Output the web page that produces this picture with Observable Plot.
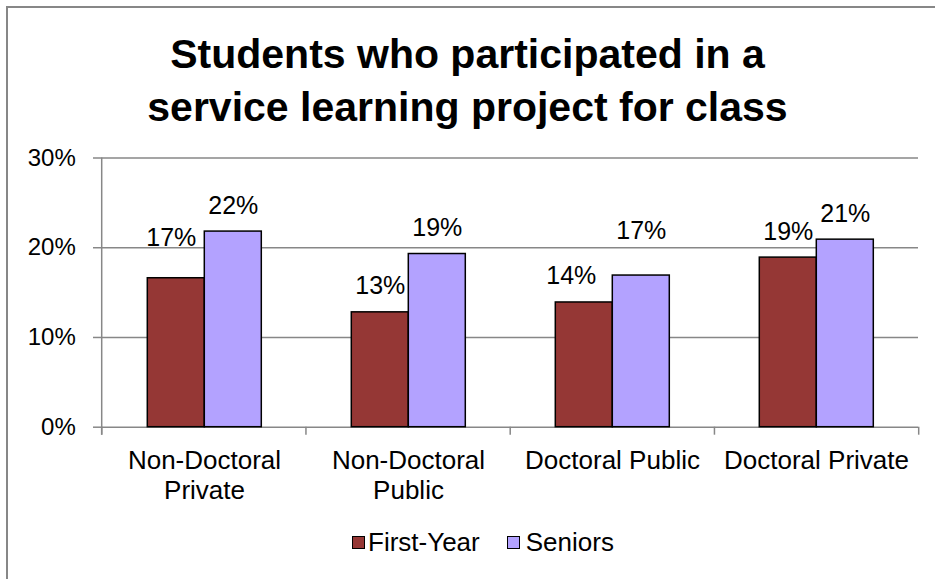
<!DOCTYPE html>
<html>
<head>
<meta charset="utf-8">
<script src="https://cdn.jsdelivr.net/npm/d3@7"></script>
<script src="https://cdn.jsdelivr.net/npm/@observablehq/plot@0.6"></script>
<style>
  html, body { margin: 0; padding: 0; background: #fff; width: 935px; height: 579px; overflow: hidden;
    font-family: "Liberation Sans", Arial, sans-serif; }
  #frame { position: absolute; left: 6px; top: 6px; width: 980px; height: 640px;
    border: 2px solid #878787; box-sizing: border-box; }
  #title { position: absolute; left: 0; top: 28.3px; width: 935px; text-align: center;
    font-weight: bold; font-size: 41px; line-height: 53px; color: #000; }
  #chart { position: absolute; left: 0; top: 140px; }
  #legend { position: absolute; left: 352px; top: 527px; height: 30px; display: flex; align-items: center;
    font-size: 26px; line-height: 30px; color: #000; white-space: nowrap; }
  .sw { width: 11px; height: 11px; border: 1px solid #000; display: inline-block; }
</style>
</head>
<body>
<div id="frame"></div>
<div id="title">Students who participated in a<br>service learning project for class</div>
<div id="chart"></div>
<div id="legend"></div>
<script>
// ---- data ----
const categories = ["Non-Doctoral Private", "Non-Doctoral Public", "Doctoral Public", "Doctoral Private"];
const categoryLabels = ["Non-Doctoral\nPrivate", "Non-Doctoral\nPublic", "Doctoral Public", "Doctoral Private"];
const series = ["First-Year", "Seniors"];
const firstYear = [16.6, 12.8, 13.9, 18.9];
const seniors = [21.8, 19.3, 16.9, 20.9];
const yTicks = [0, 10, 20, 30];
const colors = ["#953735", "#B3A2FF"];

const rows = categories.flatMap((c, i) => [
  {category: c, series: series[0], value: firstYear[i]},
  {category: c, series: series[1], value: seniors[i]}
]);

const gray = "#878787";
const font = '"Liberation Sans", Arial, sans-serif';

const label = (filter, dx, dy) => Plot.text(rows, {
  filter, fx: "category", x: "series", y: "value",
  text: d => Math.round(d.value) + "%",
  lineAnchor: "bottom", dx, dy, fontSize: 25, fill: "#000"
});
const is = (c, s) => d => d.category === categories[c] && d.series === series[s];
const isRegular = d => !(is(0,0)(d) || is(2,0)(d) || is(2,1)(d));

const chart = Plot.plot({
  width: 935,
  height: 380,
  marginTop: 17.5,
  marginBottom: 93.3,
  marginLeft: 101.7,
  marginRight: 16.3,
  style: {fontFamily: font, background: "transparent", overflow: "visible"},
  fx: {domain: categories, padding: 0, label: null},
  x: {domain: series, paddingInner: 0, paddingOuter: 0.76, axis: null},
  y: {domain: [0, 30], label: null},
  color: {domain: series, range: colors},
  marks: [
    Plot.gridY(yTicks.filter(t => t > 0), {stroke: gray, strokeOpacity: 1, strokeWidth: 1.5}),
    Plot.ruleY([0], {stroke: gray, strokeWidth: 1.5}),
    Plot.axisY({ticks: yTicks, tickFormat: d => d + "%", tickSize: 9, tickPadding: 17.7,
      fontSize: 24, stroke: gray, strokeWidth: 1.5, fill: "#000", label: null}),
    Plot.axisFx({anchor: "bottom", tickSize: 0, tickPadding: 21, fontSize: 26, lineHeight: 1.14, fill: "#000",
      tickFormat: c => categoryLabels[categories.indexOf(c)], label: null}),
    Plot.barY(rows, {fx: "category", x: "series", y: "value", fill: "series",
      stroke: "#000", strokeWidth: 1.5, inset: 0}),
    label(isRegular, 0, -18),
    label(is(0,0), -5, -32),
    label(is(2,0), -13, -18),
    label(is(2,1), 0, -37)
  ]
});

// axis line and category boundary ticks, placed with the plot's own scales
const fxD = chart.scale("fx"), yD = chart.scale("y");
const fxs = d3.scaleBand(fxD.domain, fxD.range).paddingInner(fxD.paddingInner ?? 0).paddingOuter(fxD.paddingOuter ?? 0);
const ys = d3.scaleLinear(yD.domain, yD.range);
const g = d3.select(chart).append("g").attr("stroke", gray).attr("stroke-width", 1.5);
const bounds = [...categories.map(c => fxs(c)), fxs.range()[1]];
bounds.forEach(b => g.append("line").attr("x1", b).attr("x2", b).attr("y1", ys(0)).attr("y2", ys(0) + 8));
g.append("line").attr("x1", bounds[0]).attr("x2", bounds[0]).attr("y1", ys(30)).attr("y2", ys(0) + 8);

document.getElementById("chart").append(chart);

// legend
const legend = document.getElementById("legend");
series.forEach((s, i) => {
  const sw = document.createElement("span");
  sw.className = "sw";
  sw.style.background = colors[i];
  sw.style.marginRight = i === 0 ? "3px" : "6px";
  const t = document.createElement("span");
  t.textContent = s;
  if (i === 0) t.style.marginRight = "27px";
  legend.append(sw, t);
});
</script>
</body>
</html>
